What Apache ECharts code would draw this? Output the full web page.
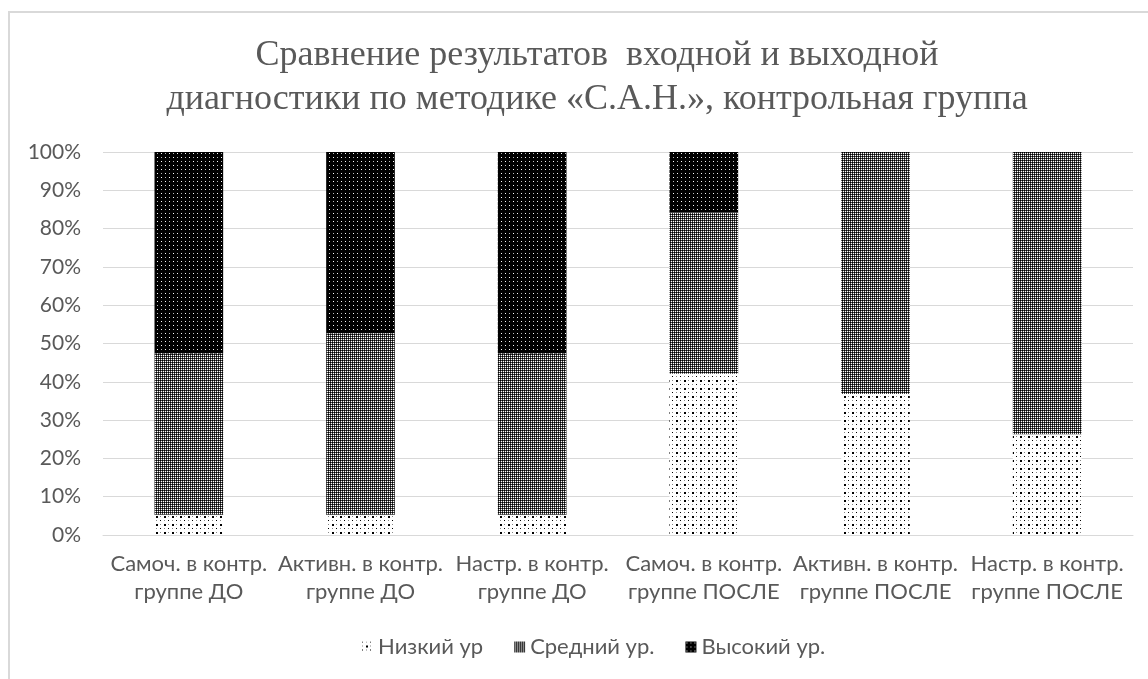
<!DOCTYPE html>
<html><head><meta charset="utf-8">
<script src="https://cdn.jsdelivr.net/npm/echarts@6/dist/echarts.min.js"></script>
<style>html,body{margin:0;padding:0;background:#fff}#c{width:1148px;height:679px}</style>
</head><body><div id="c"></div>
<script>
const titleLines = ['Сравнение результатов  входной и выходной', 'диагностики по методике «С.А.Н.», контрольная группа'];
const categories = ['Самоч. в контр.\nгруппе ДО', 'Активн. в контр.\nгруппе ДО', 'Настр. в контр.\nгруппе ДО', 'Самоч. в контр.\nгруппе ПОСЛЕ', 'Активн. в контр.\nгруппе ПОСЛЕ', 'Настр. в контр.\nгруппе ПОСЛЕ'];
const seriesNames = ['Низкий ур', 'Средний ур.', 'Высокий ур.'];
const lowValues = [5.3, 5.3, 5.3, 42.1, 36.8, 26.3];
const midValues = [42.1, 47.4, 42.1, 42.1, 63.2, 73.7];
const highValues = [52.6, 47.4, 52.6, 15.8, 0, 0];

function makePattern(size, bg, dots) {
  const c = document.createElement('canvas');
  c.width = size; c.height = size;
  const g = c.getContext('2d');
  g.fillStyle = bg; g.fillRect(0, 0, size, size);
  dots.forEach(d => { g.fillStyle = d[3]; g.fillRect(d[0], d[1], d[2], d[2]); });
  return { image: c, repeat: 'repeat' };
}
const lowPat = makePattern(8, '#ffffff', [[0,0,1,'#000'],[4,4,2,'#000'],[4,0,1,'#888'],[0,4,1,'#888']]);
const midPat = makePattern(2, '#444444', [[0,0,1,'#000'],[1,1,1,'#fff']]);
const highPat = makePattern(8, '#000000', [[1,1,1,'#fff'],[5,5,1,'#fff'],[5,1,1,'#bbb'],[1,5,1,'#bbb']]);

const font = 'Lato, "Open Sans", sans-serif';
const chart = echarts.init(document.getElementById('c'), null, { renderer: 'canvas' });
chart.setOption({
  animation: false,
  graphic: [
    { type: 'rect', shape: { x: 9, y: 12, width: 1200, height: 700 }, style: { fill: 'none', stroke: '#d9d9d9', lineWidth: 2 }, silent: true },
    { type: 'text', x: 597, y: 34, style: { text: titleLines.join('\n'), align: 'center', verticalAlign: 'top', font: '36px "Liberation Serif", serif', lineHeight: 44, fill: '#595959' } }
  ],
  legend: {
    left: 357, top: 631, itemWidth: 11, itemHeight: 11, itemGap: 31,
    icon: 'rect',
    textStyle: { color: '#595959', fontSize: 22, fontFamily: font },
    data: seriesNames
  },
  grid: { left: 103, right: 15, top: 152, bottom: 144, containLabel: false },
  xAxis: {
    type: 'category', data: categories,
    axisLine: { lineStyle: { color: '#d9d9d9', width: 1 } },
    axisTick: { show: false },
    axisLabel: { color: '#595959', fontSize: 22, fontFamily: font, lineHeight: 28, margin: 15, interval: 0 }
  },
  yAxis: {
    type: 'value', min: 0, max: 100, interval: 10,
    axisLabel: { formatter: '{value}%', color: '#595959', fontSize: 21, fontFamily: font, margin: 22 },
    splitLine: { lineStyle: { color: '#d9d9d9', width: 1 } },
    axisLine: { show: false }, axisTick: { show: false }
  },
  series: [
    { name: seriesNames[0], type: 'bar', stack: 's', data: lowValues, barWidth: '40%', itemStyle: { color: lowPat } },
    { name: seriesNames[1], type: 'bar', stack: 's', data: midValues, barWidth: '40%', itemStyle: { color: midPat } },
    { name: seriesNames[2], type: 'bar', stack: 's', data: highValues, barWidth: '40%', itemStyle: { color: highPat } }
  ]
});
</script></body></html>
